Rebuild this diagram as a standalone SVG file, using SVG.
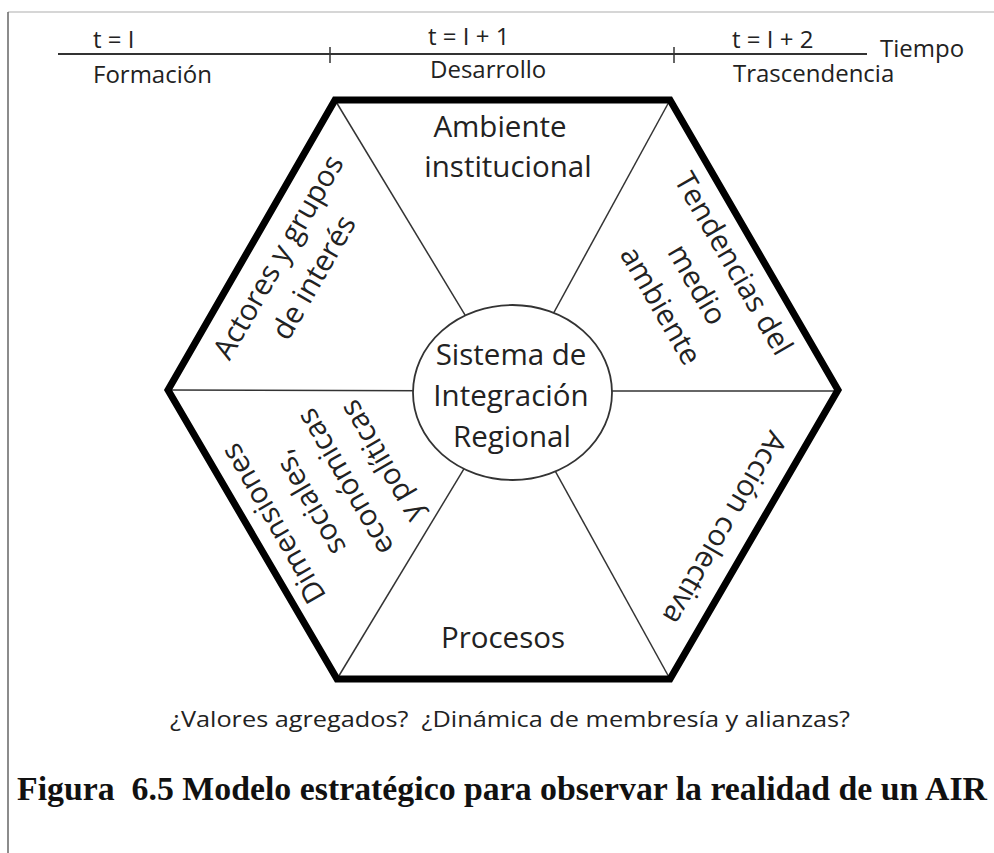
<svg xmlns="http://www.w3.org/2000/svg" width="994" height="853" viewBox="0 0 994 853">
<style>
  .t { font-family: "Open Sans", "Liberation Sans", sans-serif; fill: #222; }
  .tl { font-size: 24px; }
  .hx { font-size: 29.5px; text-anchor: middle; }
  .spoke { stroke: #333; stroke-width: 1.5; fill: none; }
  .cap { font-family: "Liberation Serif", "Times New Roman", serif; font-weight: bold; font-size: 33px; fill: #111; }
</style>
<rect x="0" y="0" width="994" height="853" fill="#fff"/>
<g id="frame">
  <line x1="8" y1="12" x2="994" y2="12" stroke="#c8c8c8" stroke-width="1.5"/>
  <line x1="8" y1="12" x2="8" y2="853" stroke="#666" stroke-width="1.5"/>
</g>
<g id="timeline">
  <line x1="58" y1="54" x2="867" y2="54" stroke="#333" stroke-width="1.8"/>
  <line x1="330" y1="47" x2="330" y2="63" stroke="#333" stroke-width="1.5"/>
  <line x1="674" y1="47" x2="674" y2="63" stroke="#333" stroke-width="1.5"/>
  <text class="t tl" x="93" y="48">t = I</text>
  <text class="t tl" x="93" y="83">Formación</text>
  <text class="t tl" x="428" y="45">t = I + 1</text>
  <text class="t tl" x="430" y="78">Desarrollo</text>
  <text class="t tl" x="732" y="48">t = I + 2</text>
  <text class="t tl" x="733" y="82">Trascendencia</text>
  <text class="t tl" x="880" y="57">Tiempo</text>
</g>
<g id="connectors">
  <line class="spoke" x1="335" y1="100" x2="511" y2="391"/>
  <line class="spoke" x1="670" y1="100" x2="511" y2="391"/>
  <line class="spoke" x1="168" y1="390" x2="511" y2="391"/>
  <line class="spoke" x1="838" y1="391" x2="511" y2="391"/>
  <line class="spoke" x1="337" y1="679" x2="511" y2="391"/>
  <line class="spoke" x1="670" y1="679" x2="511" y2="391"/>
</g>
<g id="hexagon">
  <polygon points="335,100 670,100 838,390 670,679 337,679 168,390" fill="none" stroke="#000" stroke-width="7" stroke-linejoin="miter"/>
</g>
<g id="center">
  <ellipse cx="512.5" cy="392.5" rx="99.5" ry="87.5" fill="#fff" stroke="#333" stroke-width="1.8"/>
  <text class="t hx" x="511" y="365">Sistema de</text>
  <text class="t hx" x="511" y="406">Integración</text>
  <text class="t hx" x="512" y="447">Regional</text>
</g>
<g id="ambiente">
  <text class="t hx" x="500" y="137">Ambiente</text>
  <text class="t hx" x="508" y="177">institucional</text>
</g>
<g id="tendencias" transform="translate(724.8,268.6) rotate(60)">
  <text class="t hx" x="0" y="0">Tendencias del</text>
  <text class="t hx" x="0" y="42">medio</text>
  <text class="t hx" x="0" y="84">ambiente</text>
</g>
<g id="accion" transform="translate(716,523) rotate(120)">
  <text class="t hx" x="0" y="0">Acción colectiva</text>
</g>
<g id="procesos">
  <text class="t hx" x="503" y="648">Procesos</text>
</g>
<g id="dimensiones" transform="translate(282,518.5) rotate(-120)">
  <text class="t hx" x="0" y="0">Dimensiones</text>
  <text class="t hx" x="0" y="41.5">sociales,</text>
  <text class="t hx" x="0" y="83">económicas</text>
  <text class="t hx" x="0" y="124.5">y políticas</text>
</g>
<g id="actores" transform="translate(287,262) rotate(-60)">
  <text class="t hx" x="0" y="0">Actores y grupos</text>
  <text class="t hx" x="0" y="41">de interés</text>
</g>
<g id="questions">
  <text class="t" x="170" y="727" font-size="22" textLength="680" lengthAdjust="spacingAndGlyphs" style="white-space:pre">¿Valores agregados?  ¿Dinámica de membresía y alianzas?</text>
</g>
<g id="caption">
  <text class="cap" x="17" y="800" textLength="970" lengthAdjust="spacingAndGlyphs" style="white-space:pre">Figura  6.5 Modelo estratégico para observar la realidad de un AIR</text>
</g>
</svg>
